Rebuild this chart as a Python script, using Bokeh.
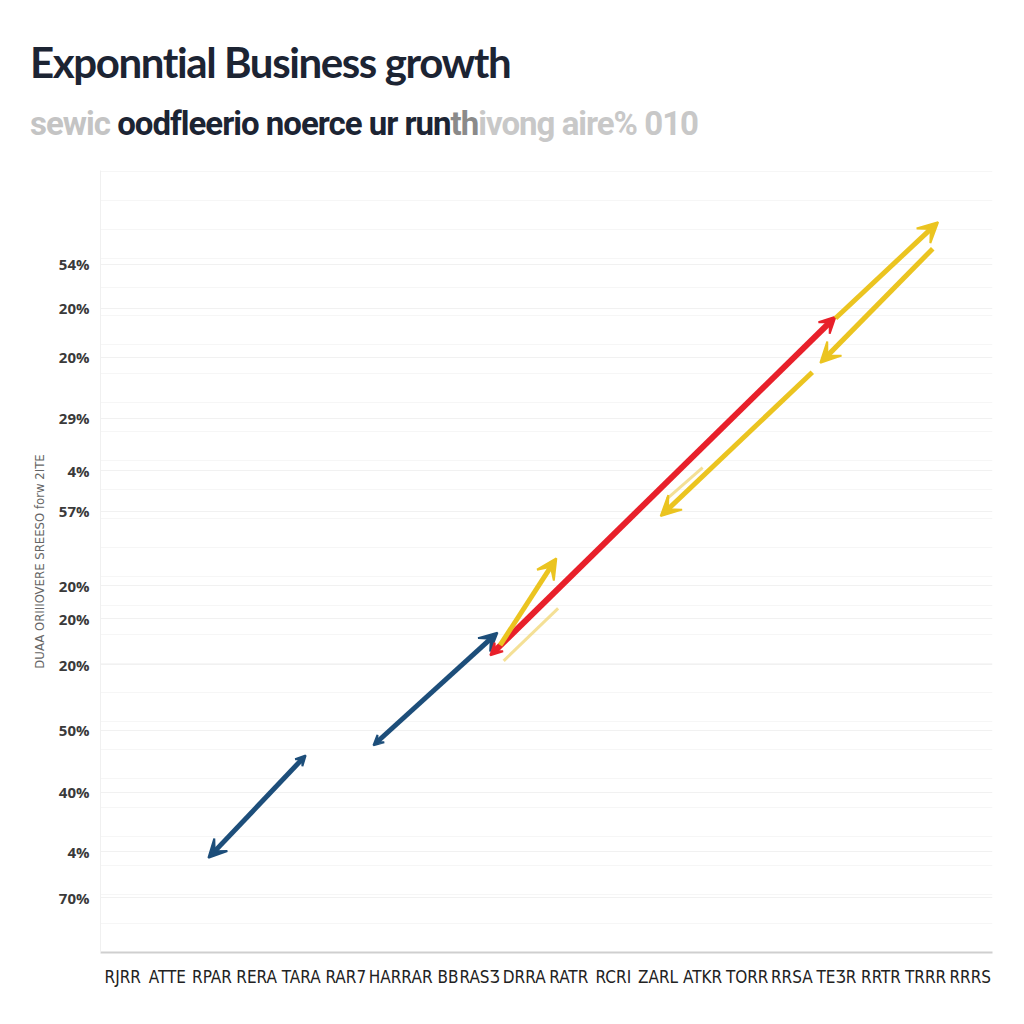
from bokeh.plotting import figure
from bokeh.models import (ColumnDataSource, Arrow, VeeHead, FixedTicker, Div,
                          Range1d)
from bokeh.layouts import column
from bokeh.embed import file_html
from bokeh.resources import INLINE

# ---------------- data ----------------
title_text = "Exponntial Business growth"
subtitle_parts = [("sewic ", "#c4c4c4"), ("oodfleerio noerce ur run", "#1c2433"),
                  ("th", "#8a8a8a"), ("ivong aire% 010", "#c8c8c8")]

y_tick_values = [88.0, 82.4, 76.1, 68.3, 61.6, 56.4, 46.9, 42.7, 36.8, 28.4, 20.5, 12.9, 7.0]
y_tick_labels = ["54%", "20%", "20%", "29%", "4%", "57%", "20%", "20%", "20%",
                 "50%", "40%", "4%", "70%"]
y_axis_label = "DUAA ORIIIOVERE SREESO forw 2ITE"

x_tick_values = [2.5 + 5 * i for i in range(20)]
x_tick_labels = ["RJRR", "ATTE", "RPAR", "RERA", "TARA", "RAR7", "HARR", "AR BB",
                 "RASƷ", "DRRA", "RATR", "RCRI", "ZARL", "ATKR", "TORR", "RRSA",
                 "TEƷR", "RRTR", "TRRR", "RRRS"]

# arrow series (start -> end)
blue_x0 = [23.0, 30.6]
blue_y0 = [25.2, 26.5]
blue_x1 = [12.1, 44.5]
blue_y1 = [12.1, 40.9]

red_x0 = [43.7]
red_y0 = [38.0]
red_x1 = [82.4]
red_y1 = [81.3]

yellow_x0 = [44.8, 82.4, 93.3, 79.8]
yellow_y0 = [39.3, 81.1, 90.0, 74.2]
yellow_x1 = [51.1, 93.9, 80.7, 62.8]
yellow_y1 = [50.4, 93.4, 75.4, 55.8]

faint_x0 = [45.2, 63.5]
faint_y0 = [37.3, 58.0]
faint_x1 = [51.3, 67.5]
faint_y1 = [44.0, 62.0]

# ---------------- header ----------------
title_div = Div(
    text=title_text,
    width=1000, height=78, margin=(0, 0, 0, 0),
    styles={"font-family": "Lato", "font-weight": "bold", "font-size": "42px",
            "color": "#1c2433", "padding-left": "30px", "padding-top": "40px",
            "letter-spacing": "-1.4px", "line-height": "44px"})

sub_html = "".join('<span style="color:%s">%s</span>' % (c, t) for t, c in subtitle_parts)
subtitle_div = Div(
    text=sub_html,
    width=1000, height=70, margin=(0, 0, 0, 0),
    styles={"font-family": "Roboto, sans-serif", "font-weight": "bold",
            "font-size": "33px", "padding-left": "30px", "padding-top": "27px",
            "line-height": "38px", "letter-spacing": "-1.0px"})

# ---------------- figure ----------------
p = figure(width=1000, height=850, output_backend="svg", toolbar_location=None,
           x_range=Range1d(0, 100), y_range=Range1d(0, 100),
           min_border_left=100, min_border_right=8, min_border_top=22, min_border_bottom=46)
p.outline_line_color = None
p.background_fill_color = "white"

p.yaxis.ticker = FixedTicker(ticks=y_tick_values,
                             minor_ticks=[i * 3.7 for i in range(1, 28)])
p.yaxis.major_label_overrides = {v: l for v, l in zip(y_tick_values, y_tick_labels)}
p.yaxis.major_label_text_font = "Open Sans"
p.yaxis.major_label_text_font_style = "bold"
p.yaxis.major_label_text_font_size = "15px"
p.yaxis.major_label_text_color = "#3a3a3a"
p.yaxis.major_tick_line_color = None
p.yaxis.minor_tick_line_color = None
p.yaxis.axis_line_color = "#f0f0f0"
p.yaxis.axis_label = y_axis_label
p.yaxis.axis_label_text_font = "DejaVu Sans Condensed"
p.yaxis.axis_label_text_font_style = "normal"
p.yaxis.axis_label_text_font_size = "13px"
p.yaxis.axis_label_text_color = "#666666"
p.yaxis.axis_label_standoff = 9

p.xaxis.ticker = FixedTicker(ticks=x_tick_values)
p.xaxis.major_label_overrides = {v: l for v, l in zip(x_tick_values, x_tick_labels)}
p.xaxis.major_label_text_font = "DejaVu Sans Condensed"
p.xaxis.major_label_text_font_size = "17px"
p.xaxis.major_label_text_color = "#222222"
p.xaxis.major_tick_line_color = None
p.xaxis.minor_tick_line_color = None
p.xaxis.axis_line_color = "#cfcfcf"
p.xaxis.axis_line_width = 2
p.xaxis.major_label_standoff = 8

p.xgrid.grid_line_color = None
p.ygrid.grid_line_color = "#f1f1f1"
p.ygrid.minor_grid_line_color = "#f6f6f6"

# faint yellow strokes
p.segment(x0=faint_x0, y0=faint_y0, x1=faint_x1, y1=faint_y1,
          line_color="#efd36a", line_width=3, line_alpha=0.7)

BLUE = "#1d4e7a"
RED = "#e8202a"
YELLOW = "#ebc420"

# blue arrows (heads at both ends, smaller start heads)
for i in range(len(blue_x0)):
    src = ColumnDataSource(dict(x0=[blue_x0[i]], y0=[blue_y0[i]], x1=[blue_x1[i]], y1=[blue_y1[i]]))
    p.add_layout(Arrow(x_start="x0", y_start="y0", x_end="x1", y_end="y1", source=src,
                       line_color=BLUE, line_width=5,
                       start=VeeHead(size=10, fill_color=BLUE, line_color=BLUE, line_width=2),
                       end=VeeHead(size=18, fill_color=BLUE, line_color=BLUE, line_width=2)))

# red arrow
src = ColumnDataSource(dict(x0=red_x0, y0=red_y0, x1=red_x1, y1=red_y1))
p.add_layout(Arrow(x_start="x0", y_start="y0", x_end="x1", y_end="y1", source=src,
                   line_color=RED, line_width=6,
                   start=VeeHead(size=12, fill_color=RED, line_color=RED, line_width=2),
                   end=VeeHead(size=16, fill_color=RED, line_color=RED, line_width=2)))

# yellow arrows
src = ColumnDataSource(dict(x0=yellow_x0, y0=yellow_y0, x1=yellow_x1, y1=yellow_y1))
p.add_layout(Arrow(x_start="x0", y_start="y0", x_end="x1", y_end="y1", source=src,
                   line_color=YELLOW, line_width=5,
                   end=VeeHead(size=20, fill_color=YELLOW, line_color=YELLOW, line_width=2)))

layout = column(title_div, subtitle_div, p, spacing=0)
open("out.html", "w").write(file_html(layout, INLINE))
